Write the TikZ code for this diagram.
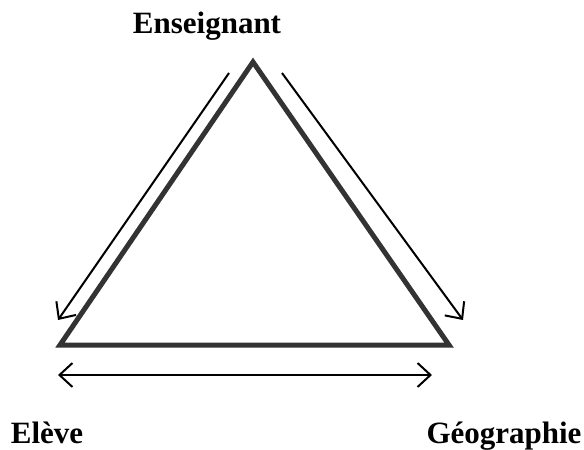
\documentclass[tikz,border=0pt]{standalone}
\usepackage{fontspec}
\setmainfont{Liberation Serif}
\usetikzlibrary{arrows.meta}

\begin{document}
\begin{tikzpicture}[
    x=1pt, y=-1pt,
    font=\fontsize{31}{36}\selectfont\bfseries,
    side/.style={line width=5pt, color=black!80, line join=miter},
    link/.style={line width=2pt, -{Straight Barb[length=13pt,width=24pt]}},
    label/.style={anchor=base, inner sep=0pt}
]
\useasboundingbox (0,0) rectangle (584,450);

% Corners of the triangle
\coordinate (top) at (253,62);
\coordinate (left) at (60,345);
\coordinate (right) at (449,345);

% Triangle
\draw[side] (top) -- (right) -- (left) -- cycle;

% Arrows along the sides
\coordinate (l1) at (229,73);
\coordinate (l2) at (58,320);
\coordinate (r1) at (282,73);
\coordinate (r2) at (463,320);
\coordinate (b1) at (58,375);
\coordinate (b2) at (432,375);
\draw[link] (l1) -- (l2);
\draw[link] (r1) -- (r2);
\draw[link, {Straight Barb[length=13pt,width=24pt]}-{Straight Barb[length=13pt,width=24pt]}] (b1) -- (b2);

% Labels
\node[label] (ens) at (207,33) {Enseignant};
\node[label] (eleve) at (47,443) {Elève};
\node[label] (geo) at (504,443) {Géographie};

\end{tikzpicture}
\end{document}
